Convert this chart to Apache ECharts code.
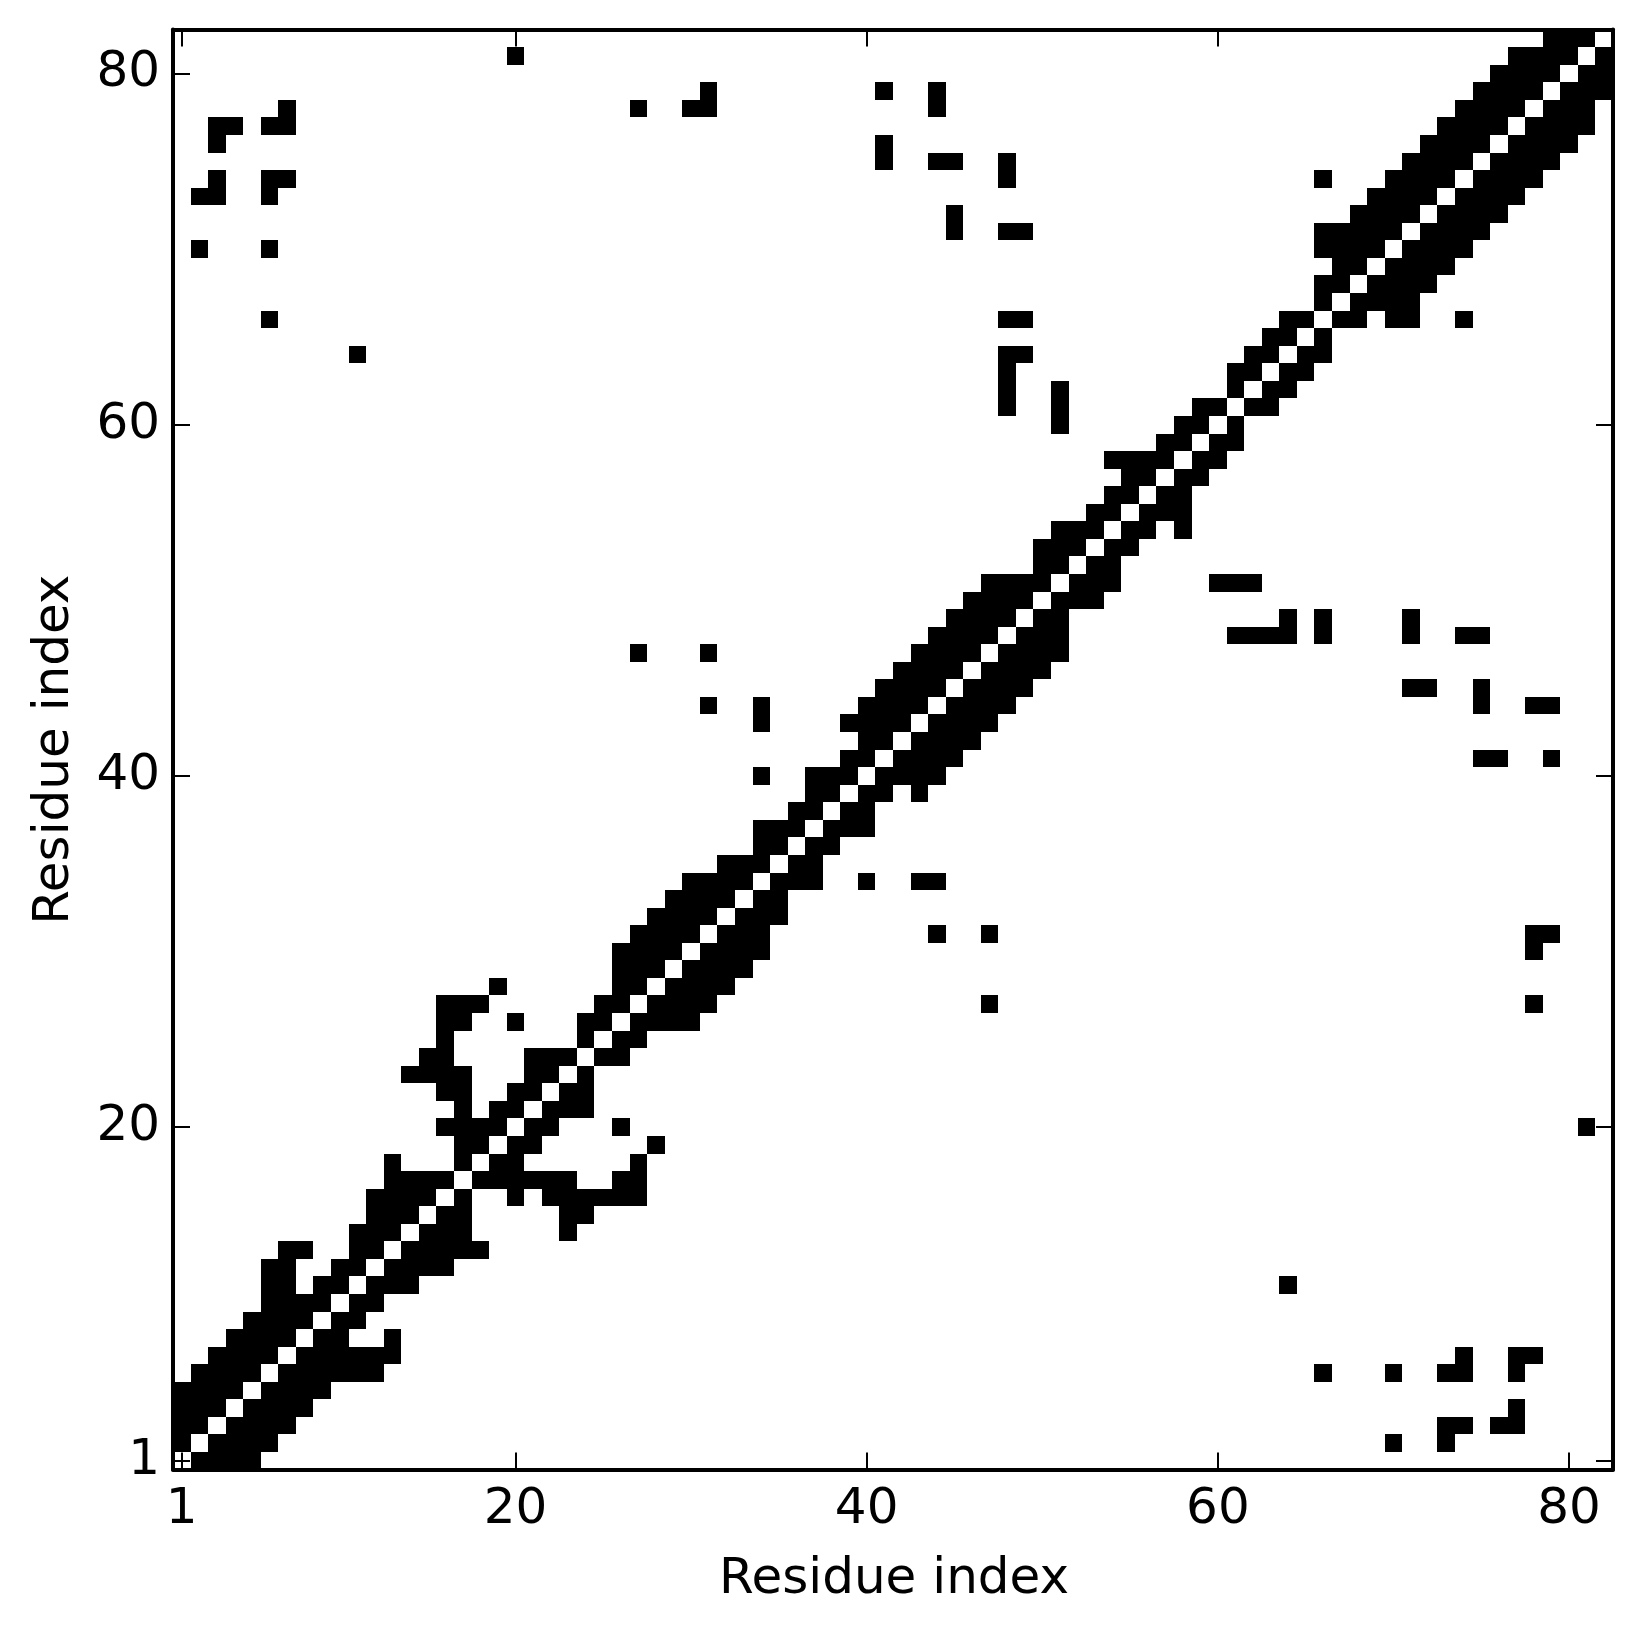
<!DOCTYPE html>
<html>
<head>
<meta charset="utf-8">
<title>Residue contact map</title>
<style>html,body{margin:0;padding:0;background:#fff}#chart{width:1643px;height:1633px}</style>
<script src="https://cdn.jsdelivr.net/npm/echarts@6/dist/echarts.min.js"></script>
</head>
<body>
<div id="chart"></div>
<script>
const residueCount = 82;
const tickLabels = [1, 20, 40, 60, 80];
const axisTitle = 'Residue index';
// For each residue (first entry = residue 1): the higher-numbered residues it contacts.
const contactsOfResidue = [
  [2,3,4,5],
  [3,4,5,6,70,73],
  [4,5,6,7,73,74,76,77],
  [5,6,7,8,77],
  [6,7,8,9],
  [7,8,9,10,11,12,66,70,73,74,77],
  [8,9,10,11,12,13,74,77,78],
  [9,10,13],
  [10,11],
  [11,12],
  [12,13,14,64],
  [13,14,15,16],
  [14,15,16,17,18],
  [15,16,17,23],
  [16,17,23,24],
  [17,20,22,23,24,25,26,27],
  [18,19,20,21,22,23,26,27],
  [19,20,27],
  [20,21,28],
  [21,22,26,81],
  [22,23,24],
  [23,24],
  [24],
  [25,26],
  [26,27],
  [27,28,29,30],
  [28,29,30,31,47,78],
  [29,30,31,32],
  [30,31,32,33],
  [31,32,33,34,78],
  [32,33,34,44,47,78,79],
  [33,34,35],
  [34,35],
  [35,36,37,40,43,44],
  [36,37],
  [37,38],
  [38,39,40],
  [39,40],
  [40,41,43],
  [41,42,43,44],
  [42,43,44,45,75,76,79],
  [43,44,45,46],
  [44,45,46,47],
  [45,46,47,48,75,78,79],
  [46,47,48,49,71,72,75],
  [47,48,49,50],
  [48,49,50,51],
  [49,50,51,61,62,63,64,66,71,74,75],
  [50,51,64,66,71],
  [51,52,53],
  [52,53,54,60,61,62],
  [53,54],
  [54,55],
  [55,56,58],
  [56,57,58],
  [57,58],
  [58,59],
  [59,60],
  [60,61],
  [61],
  [62,63],
  [63,64],
  [64,65],
  [65,66],
  [66],
  [67,68,70,71,74],
  [68,69,70,71],
  [69,70,71,72],
  [70,71,72,73],
  [71,72,73,74],
  [72,73,74,75],
  [73,74,75,76],
  [74,75,76,77],
  [75,76,77,78],
  [76,77,78,79],
  [77,78,79,80],
  [78,79,80,81],
  [79,80,81],
  [80,81,82],
  [81,82],
  [82],
  []
];

const residues = [];
for (let r = 1; r <= residueCount; r++) residues.push(String(r));
const cells = [];
contactsOfResidue.forEach((list, i) => {
  list.forEach(j => {
    cells.push([String(i + 1), String(j)]);
    cells.push([String(j), String(i + 1)]);
  });
});
const isTick = (index, value) => tickLabels.includes(Number(value));
const font = 'DejaVu Sans';
const line = { show: true, onZero: false, lineStyle: { color: '#000', width: 4 } };
const tick = { show: true, inside: true, length: 17, alignWithLabel: true, interval: isTick, lineStyle: { color: '#000', width: 2 } };
const label = { show: true, interval: isTick, color: '#000', fontFamily: font, fontSize: 50 };

// One black square per contact, placed by the axes and snapped to whole pixels so neighbours join without seams.
const snap = v => Math.round(Number(v.toFixed(3)));
function renderCell(params, api) {
  const centre = api.coord([api.value(0), api.value(1)]);
  const band = api.size([1, 1]);
  const x0 = snap(centre[0] - band[0] / 2);
  const x1 = snap(centre[0] + band[0] / 2);
  const y0 = snap(centre[1] - band[1] / 2);
  const y1 = snap(centre[1] + band[1] / 2);
  return { type: 'rect', shape: { x: x0, y: y0, width: x1 - x0, height: y1 - y0 }, style: { fill: '#000' } };
}

const chart = echarts.init(document.getElementById('chart'), null, { renderer: 'canvas', width: 1643, height: 1633 });
chart.setOption({
  animation: false,
  backgroundColor: '#fff',
  grid: { left: 173, top: 29.6, width: 1440, height: 1440, containLabel: false, outerBoundsMode: 'none' },
  xAxis: [
    { type: 'category', data: residues, position: 'bottom', axisLine: line, axisTick: tick,
      axisLabel: Object.assign({}, label, { margin: 15 }), splitLine: { show: false },
      name: axisTitle, nameLocation: 'middle', nameGap: 85,
      nameTextStyle: { color: '#000', fontFamily: font, fontSize: 50, padding: [0, 0, 0, 2] } },
    { type: 'category', data: residues, position: 'top', axisLine: line, axisTick: tick,
      axisLabel: { show: false }, splitLine: { show: false } }
  ],
  yAxis: [
    { type: 'category', data: residues, position: 'left', axisLine: line, axisTick: tick,
      axisLabel: Object.assign({}, label, { margin: 13 }), splitLine: { show: false },
      name: axisTitle, nameLocation: 'middle', nameGap: 93,
      nameTextStyle: { color: '#000', fontFamily: font, fontSize: 50 } },
    { type: 'category', data: residues, position: 'right', axisLine: line, axisTick: tick,
      axisLabel: { show: false }, splitLine: { show: false } }
  ],
  series: [{
    type: 'custom',
    coordinateSystem: 'cartesian2d',
    xAxisIndex: 0,
    yAxisIndex: 0,
    encode: { x: 0, y: 1 },
    data: cells,
    renderItem: renderCell,
    silent: true,
    progressive: 0
  }]
});
</script>
</body>
</html>
